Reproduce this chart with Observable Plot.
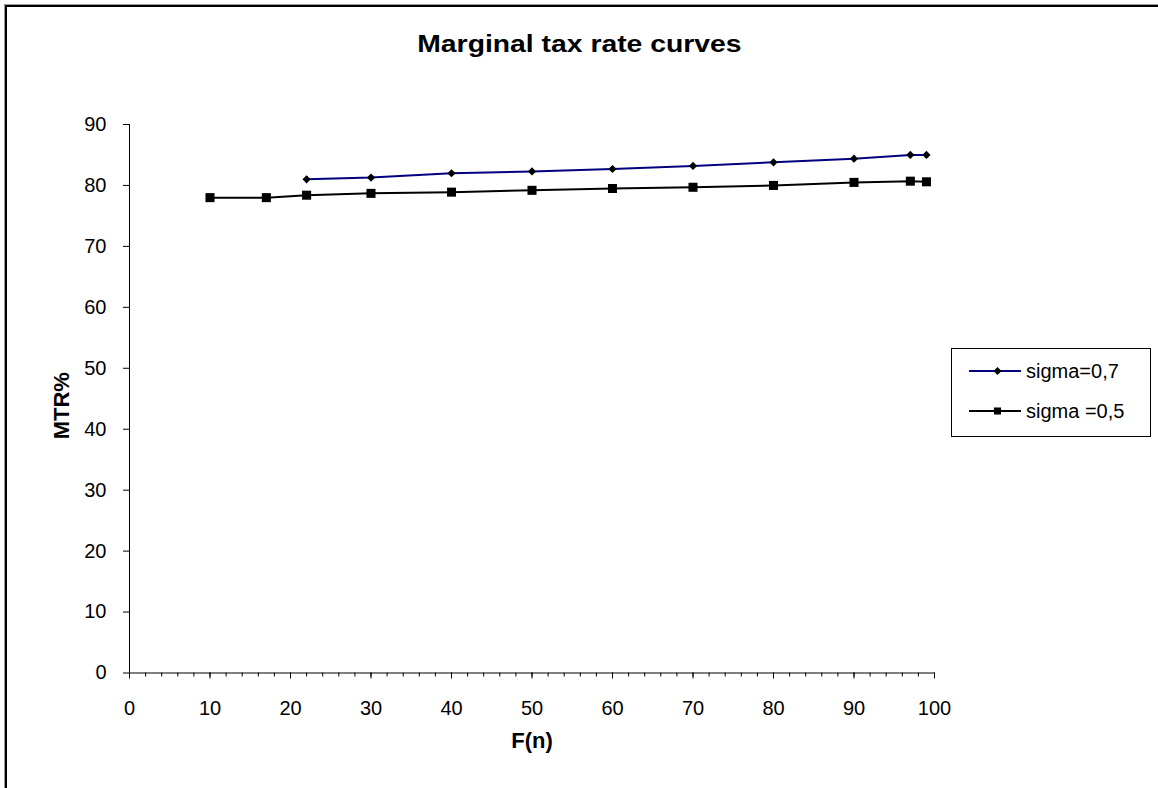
<!DOCTYPE html>
<html>
<head>
<meta charset="utf-8">
<script src="https://cdn.jsdelivr.net/npm/d3@7"></script>
<script src="https://cdn.jsdelivr.net/npm/@observablehq/plot@0.6"></script>
<style>
  html, body { margin: 0; padding: 0; width: 1158px; height: 788px; overflow: hidden; background: #fff; font-family: "Liberation Sans", Arial, sans-serif; }
  #frame { position: absolute; left: 5px; top: 5px; width: 1300px; height: 900px; border-left: 2px solid #000; border-top: 2px solid #000; box-shadow: -1px -1px 0 #999; }
  #title { position: absolute; left: 0; top: 32px; width: 1158px; text-align: center; line-height: 1; }
  #title span { display: inline-block; font-size: 24px; font-weight: bold; transform: scaleX(1.18); transform-origin: center; }
  #chart { position: absolute; left: 0; top: 0; }
  #legend { position: absolute; left: 0; top: 0; }
</style>
</head>
<body>
<div id="frame"></div>
<div id="chart"></div>
<div id="title"><span>Marginal tax rate curves</span></div>
<svg id="legend" width="1158" height="788"></svg>
<script>
// Data
const seriesNames = ["sigma=0,7", "sigma =0,5"];
const fn07 = [22, 30, 40, 50, 60, 70, 80, 90, 97, 99];
const mtr07 = [81.0, 81.3, 82.0, 82.3, 82.7, 83.2, 83.8, 84.4, 85.0, 85.0];
const fn05 = [10, 17, 22, 30, 40, 50, 60, 70, 80, 90, 97, 99];
const mtr05 = [78.0, 78.0, 78.4, 78.7, 78.9, 79.2, 79.5, 79.7, 80.0, 80.5, 80.7, 80.6];
const xTicks = [0, 10, 20, 30, 40, 50, 60, 70, 80, 90, 100];
const yTicks = [0, 10, 20, 30, 40, 50, 60, 70, 80, 90];
const xMinorTicks = d3.range(0, 101, 2);

const s07 = fn07.map((x, i) => ({x, y: mtr07[i]}));
const s05 = fn05.map((x, i) => ({x, y: mtr05[i]}));

const colors = ["#000080", "#000000"];

const chart = Plot.plot({
  width: 1158,
  height: 788,
  marginLeft: 129,
  marginRight: 224,
  marginTop: 124,
  marginBottom: 115.5,
  style: {fontFamily: '"Liberation Sans", Arial, sans-serif', fontSize: "20px", background: "transparent", color: "#000"},
  x: {domain: [0, 100]},
  y: {domain: [0, 90]},
  marks: [
    Plot.axisX({ticks: xMinorTicks, tickSize: 4, text: null, label: null, stroke: "#000"}),
    Plot.axisX({ticks: xTicks, tickSize: 6, tickPadding: 22, tickFormat: d => String(d), label: null, stroke: "#000"}),
    Plot.axisY({ticks: yTicks, tickSize: 6, tickPadding: 17, tickFormat: d => String(d), label: null, stroke: "#000"}),
    Plot.ruleY([0], {stroke: "#000", strokeWidth: 1}),
    Plot.ruleX([0], {y1: 0, y2: 90, stroke: "#000", strokeWidth: 1}),
    Plot.line(s05, {x: "x", y: "y", stroke: colors[1], strokeWidth: 2}),
    Plot.dot(s05, {x: "x", y: "y", symbol: "square", r: 5.1, fill: "#000", stroke: "none"}),
    Plot.line(s07, {x: "x", y: "y", stroke: colors[0], strokeWidth: 2}),
    Plot.dot(s07, {x: "x", y: "y", symbol: "diamond2", r: 3.7, fill: "#000", stroke: "none"}),
    Plot.text(["F(n)"], {text: d => d, frameAnchor: "bottom", dy: 75, fontWeight: "bold", fontSize: 22}),
    Plot.text(["MTR%"], {text: d => d, frameAnchor: "left", textAnchor: "middle", dx: -68, dy: 7, rotate: -90, fontWeight: "bold", fontSize: 22})
  ]
});
document.getElementById("chart").appendChild(chart);

// Legend
const lg = d3.select("#legend");
lg.append("rect").attr("x", 951.5).attr("y", 348.5).attr("width", 199).attr("height", 88)
  .attr("fill", "#fff").attr("stroke", "#000").attr("stroke-width", 1);
const rows = [
  {name: seriesNames[0], color: colors[0], y: 371, sym: "diamond"},
  {name: seriesNames[1], color: colors[1], y: 411, sym: "square"}
];
rows.forEach(r => {
  lg.append("line").attr("x1", 969).attr("x2", 1021).attr("y1", r.y).attr("y2", r.y)
    .attr("stroke", r.color).attr("stroke-width", 2);
  if (r.sym === "diamond") {
    lg.append("path").attr("d", d3.symbol(d3.symbolDiamond2, 40)()).attr("transform", `translate(997.5,${r.y})`).attr("fill", "#000");
  } else {
    lg.append("path").attr("d", d3.symbol(d3.symbolSquare, 50)()).attr("transform", `translate(997.5,${r.y})`).attr("fill", "#000");
  }
  lg.append("text").attr("x", 1026).attr("y", r.y).attr("dy", "0.35em")
    .attr("font-family", '"Liberation Sans", Arial, sans-serif').attr("font-size", 20).attr("fill", "#000")
    .text(r.name);
});
</script>
</body>
</html>
